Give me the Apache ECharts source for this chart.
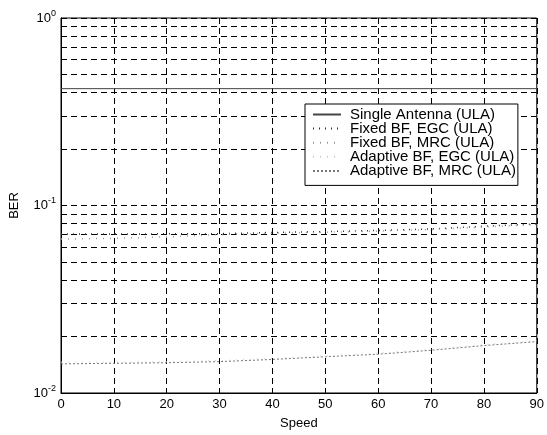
<!DOCTYPE html>
<html>
<head>
<meta charset="utf-8">
<style>
  html, body { margin: 0; padding: 0; background: #fff; }
  #main { width: 547px; height: 435px; }
</style>
</head>
<body>
<div id="main"></div>
<script src="https://cdn.jsdelivr.net/npm/echarts@6/dist/echarts.min.js"></script>
<script>
// values
var speed = [0, 10, 20, 30, 40, 50, 60, 70, 80, 90];
var singleAntenna = [0.42, 0.42, 0.42, 0.42, 0.42, 0.42, 0.42, 0.42, 0.42, 0.42];
var fixedEGC = [0.0705, 0.0705, 0.0706, 0.0708, 0.0718, 0.0726, 0.0736, 0.0750, 0.0775, 0.0798];
var fixedMRC = [0.0662, 0.0668, 0.0680, 0.0700, 0.0712, 0.0720, 0.0730, 0.0745, 0.0768, 0.0790];
var adaptiveEGC = [0.0146, 0.0146, 0.0147, 0.0149, 0.0153, 0.0158, 0.0163, 0.0171, 0.0181, 0.0190];
var adaptiveMRC = [0.0143, 0.0144, 0.0145, 0.0147, 0.0151, 0.0156, 0.0161, 0.0169, 0.0179, 0.0188];
var seriesNames = ['Single Antenna (ULA)', 'Fixed BF, EGC (ULA)', 'Fixed BF, MRC (ULA)',
                   'Adaptive BF, EGC (ULA)', 'Adaptive BF, MRC (ULA)'];
var xTicks = [0, 10, 20, 30, 40, 50, 60, 70, 80, 90];
var yMinorGrid = [0.02, 0.03, 0.04, 0.05, 0.06, 0.07, 0.08, 0.09,
                  0.2, 0.3, 0.4, 0.5, 0.6, 0.7, 0.8, 0.9];

var chartDom = document.getElementById('main');
var myChart = echarts.init(chartDom);
var font = 'Liberation Sans, Arial, sans-serif';
var gridDash = { color: '#000', width: 1, type: [6, 4] };

function pairs(ys) {
  return speed.map(function (s, i) { return [s, ys[i]]; });
}

function mk(name, ys, color, type, width) {
  return {
    name: name,
    type: 'line',
    symbol: 'none',
    data: pairs(ys),
    lineStyle: { color: color, type: type, width: width },
    itemStyle: { color: color },
    z: 3
  };
}

var series = [
  mk(seriesNames[0], singleAntenna, '#444', 'solid', 1),
  mk(seriesNames[1], fixedEGC, '#333', [1, 5], 1.5),
  mk(seriesNames[2], fixedMRC, '#999', [1, 6], 1.5),
  mk(seriesNames[3], adaptiveEGC, '#ccc', [1, 6], 1),
  mk(seriesNames[4], adaptiveMRC, '#777', [2, 2], 1)
];

// minor log grid lines
series[0].markLine = {
  silent: true,
  symbol: 'none',
  label: { show: false },
  lineStyle: gridDash,
  emphasis: { disabled: true },
  z: 2,
  data: yMinorGrid.map(function (v) { return { yAxis: v }; })
};

var option = {
  animation: false,
  textStyle: { fontFamily: font },
  grid: {
    left: 61, right: 8, top: 18, bottom: 40,
    show: true, borderColor: '#000', borderWidth: 1
  },
  legend: {
    orient: 'vertical',
    left: 305, top: 104,
    z: 20,
    data: seriesNames,
    itemWidth: 28, itemHeight: 10, itemGap: -0.9,
    padding: [3, 2, 7, 7],
    borderColor: '#000', borderWidth: 1,
    backgroundColor: '#fff',
    itemStyle: { opacity: 0 },
    textStyle: { fontSize: 15, color: '#000', fontFamily: font, padding: [0, 0, 0, 4] }
  },
  xAxis: {
    type: 'value',
    min: 0, max: 90, interval: 10,
    name: 'Speed',
    nameLocation: 'middle',
    nameGap: 24,
    nameTextStyle: { fontSize: 13, color: '#000', fontFamily: font },
    axisLine: { lineStyle: { color: '#000' } },
    axisTick: { inside: true, length: 5, lineStyle: { color: '#000' } },
    axisLabel: {
      fontSize: 13, color: '#000', margin: 5, fontFamily: font,
      formatter: function (v) { return xTicks.indexOf(v) >= 0 ? String(v) : ''; }
    },
    splitLine: { show: true, lineStyle: gridDash }
  },
  yAxis: {
    type: 'log',
    logBase: 10,
    min: 0.01, max: 1,
    name: 'BER',
    nameLocation: 'middle',
    nameGap: 40,
    nameRotate: 90,
    nameTextStyle: { fontSize: 13, color: '#000', fontFamily: font },
    axisLine: { lineStyle: { color: '#000' } },
    axisTick: { inside: true, length: 5, lineStyle: { color: '#000' } },
    axisLabel: {
      margin: 5,
      formatter: function (v) {
        return '{b|10}{s|' + Math.round(Math.log10(v)) + '}';
      },
      rich: {
        b: { fontSize: 13, color: '#000', fontFamily: font },
        s: { fontSize: 9, color: '#000', fontFamily: font, padding: [0, 0, 9, 0] }
      }
    },
    splitLine: { show: true, lineStyle: gridDash }
  },
  series: series
};

option && myChart.setOption(option);
</script>
</body>
</html>
